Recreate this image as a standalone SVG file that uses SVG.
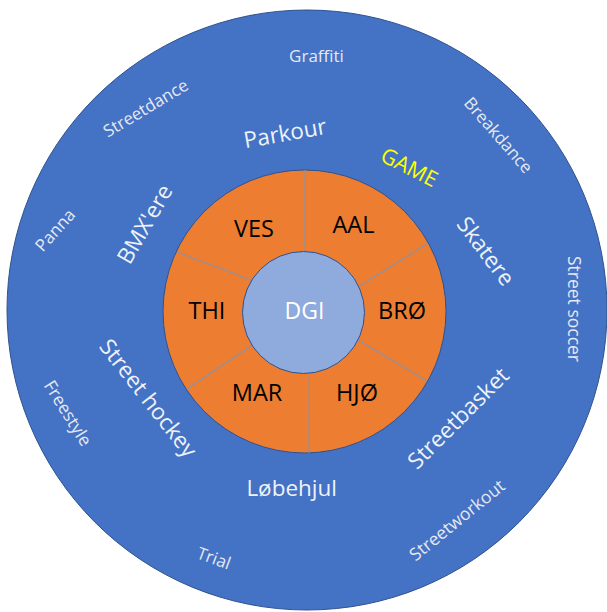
<svg xmlns="http://www.w3.org/2000/svg" width="607" height="612" viewBox="0 0 607 612">
<style>
text{font-family:"Open Sans","Liberation Sans",sans-serif;text-anchor:middle}
.big{font-size:22.5px;fill:#eef2f8}
.small{font-size:17px;fill:#e4e9f2}
.seg{font-size:23.5px;fill:#000}
.div{stroke:#8a93a8;stroke-width:1.2;fill:none}
</style>
<rect width="607" height="612" fill="#ffffff"/>
<g id="outer">
<circle cx="307" cy="310" r="300" fill="#4472c4" stroke="#2f528f" stroke-width="1"/>
</g>
<g id="ring">
<circle cx="304.5" cy="311.5" r="141.5" fill="#ed7d31" stroke="#2f528f" stroke-width="1"/>
</g>
<g id="connectors">
<line class="div" x1="305" y1="170" x2="305" y2="258"/>
<line class="div" x1="426.7" y1="244" x2="358" y2="287"/>
<line class="div" x1="358" y1="340" x2="426.7" y2="380.7"/>
<line class="div" x1="309.3" y1="368" x2="309" y2="453"/>
<line class="div" x1="254" y1="344" x2="187" y2="389"/>
<line class="div" x1="177" y1="252" x2="253" y2="281"/>
</g>
<g id="dgi">
<circle cx="303.5" cy="312.5" r="61" fill="#8faadc" stroke="#2f528f" stroke-width="1"/>
<text x="304.5" y="318.5" style="font-size:23px;fill:#ffffff">DGI</text>
</g>
<g id="seg-ves"><text class="seg" x="254" y="236.5">VES</text></g>
<g id="seg-aal"><text class="seg" x="353.5" y="232.5">AAL</text></g>
<g id="seg-thi"><text class="seg" x="207" y="318.5">THI</text></g>
<g id="seg-bro"><text class="seg" x="402" y="318.5">BRØ</text></g>
<g id="seg-mar"><text class="seg" x="257" y="401">MAR</text></g>
<g id="seg-hjo"><text class="seg" x="357" y="401">HJØ</text></g>
<g id="lbl-parkour"><text class="big" transform="translate(285,133) rotate(-10)" dy="0.36em">Parkour</text></g>
<g id="lbl-game"><text transform="translate(409.5,167) rotate(27)" dy="0.36em" style="font-size:21.5px;fill:#ffff00">GAME</text></g>
<g id="lbl-skatere"><text class="big" transform="translate(486,251) rotate(53)" dy="0.36em">Skatere</text></g>
<g id="lbl-streetbasket"><text class="big" transform="translate(458,418) rotate(-45)" dy="0.36em">Streetbasket</text></g>
<g id="lbl-lobehjul"><text class="big" x="291.7" y="496">Løbehjul</text></g>
<g id="lbl-streethockey"><text class="big" transform="translate(148.5,398) rotate(52)" dy="0.36em">Street hockey</text></g>
<g id="lbl-bmxere"><text class="big" transform="translate(144.5,224) rotate(-60)" dy="0.36em">BMX'ere</text></g>
<g id="lbl-graffiti"><text class="small" x="316.5" y="62">Graffiti</text></g>
<g id="lbl-streetdance"><text class="small" transform="translate(145.6,108) rotate(-31)" dy="0.36em">Streetdance</text></g>
<g id="lbl-breakdance"><text class="small" transform="translate(498.5,135) rotate(49)" dy="0.36em">Breakdance</text></g>
<g id="lbl-streetsoccer"><text class="small" transform="translate(574,309) rotate(90)" dy="0.36em" style="font-size:17.5px">Street soccer</text></g>
<g id="lbl-panna"><text class="small" transform="translate(55,230) rotate(-48)" dy="0.36em">Panna</text></g>
<g id="lbl-freestyle"><text class="small" transform="translate(68,413) rotate(58)" dy="0.36em" style="font-size:17.5px">Freestyle</text></g>
<g id="lbl-trial"><text class="small" transform="translate(214,558) rotate(20)" dy="0.36em">Trial</text></g>
<g id="lbl-streetworkout"><text class="small" transform="translate(457,520) rotate(-39)" dy="0.36em" style="font-size:17.5px">Streetworkout</text></g>
</svg>
